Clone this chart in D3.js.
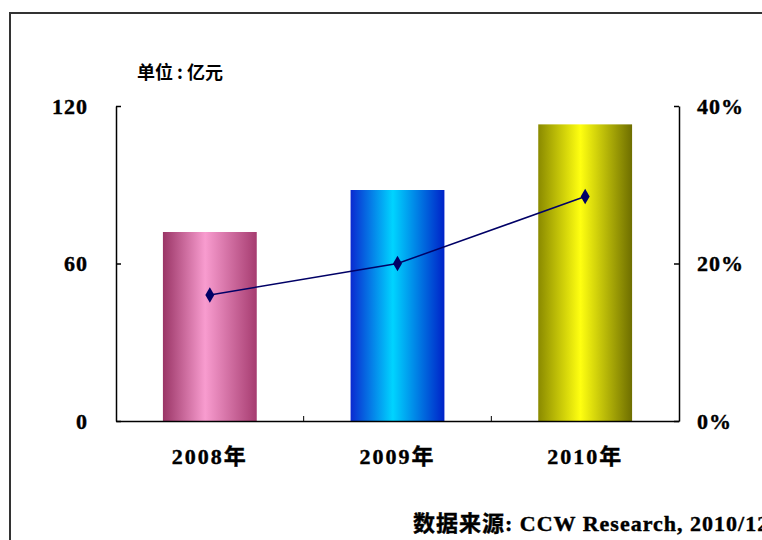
<!DOCTYPE html>
<html>
<head>
<meta charset="utf-8">
<script src="https://cdn.jsdelivr.net/npm/d3@7"></script>
<style>
  body { margin: 0; background: #fff; }
  svg text { font-family: "Liberation Serif", "Noto Sans CJK SC", serif; font-weight: bold; fill: #000; }
</style>
</head>
<body>
<div id="chart"></div>
<script>
var categories = ["2008年", "2009年", "2010年"];
var revenue = [72, 88, 113];          // 亿元
var growth = [0.16, 0.20, 0.285];     // 增长率
var leftTicks = [0, 60, 120];
var rightTicks = [0, 0.2, 0.4];
var barColors = [
    ["#9a3566", "#f89ccf", "#a63c70"],
    ["#0a2ad0", "#00d4ff", "#0022c8"],
    ["#8a8a00", "#ffff10", "#6e6e00"]
];

var W = 762, H = 540;
var plot = {left: 116, right: 679, top: 106, bottom: 421};

var svg = d3.select("#chart")
    .append("svg")
    .attr("width", W)
    .attr("height", H);

// frame
svg.append("rect")
    .attr("x", 10).attr("y", 13)
    .attr("width", 900).attr("height", 700)
    .style("fill", "none")
    .style("stroke", "#333")
    .style("stroke-width", 2);

var defs = svg.append("defs");
barColors.forEach(function(c, i) {
    var g = defs.append("linearGradient")
        .attr("id", "grad" + i)
        .attr("x1", "0%").attr("x2", "100%")
        .attr("y1", "0%").attr("y2", "0%");
    g.append("stop").attr("offset", "0%").attr("stop-color", c[0]);
    g.append("stop").attr("offset", "45%").attr("stop-color", c[1]);
    g.append("stop").attr("offset", "100%").attr("stop-color", c[2]);
});

var x = d3.scaleBand()
    .domain(categories)
    .range([plot.left, plot.right])
    .paddingInner(0.5)
    .paddingOuter(0.25);

var y = d3.scaleLinear().domain([0, 120]).range([plot.bottom, plot.top]);
var y2 = d3.scaleLinear().domain([0, 0.4]).range([plot.bottom, plot.top]);

// bars
svg.selectAll("rect.bar")
    .data(revenue)
    .enter()
    .append("rect")
    .attr("class", "bar")
    .attr("x", function(d, i) { return x(categories[i]); })
    .attr("y", function(d) { return y(d); })
    .attr("width", x.bandwidth())
    .attr("height", function(d) { return y(0) - y(d); })
    .style("fill", function(d, i) { return "url(#grad" + i + ")"; });

// left axis
var leftAxis = svg.append("g")
    .attr("transform", "translate(" + plot.left + ",0)")
    .call(d3.axisLeft(y).tickValues(leftTicks).tickSize(-5).tickSizeOuter(0).tickPadding(28));

// right axis
var rightAxis = svg.append("g")
    .attr("transform", "translate(" + plot.right + ",0)")
    .call(d3.axisRight(y2).tickValues(rightTicks).tickSize(-5).tickSizeOuter(0).tickPadding(18)
        .tickFormat(function(d) { return Math.round(d * 100) + "%"; }));

// bottom axis (labels at centers, ticks between categories)
var bottomAxis = svg.append("g")
    .attr("transform", "translate(0," + plot.bottom + ")")
    .call(d3.axisBottom(x).tickSize(0).tickSizeOuter(0).tickPadding(27));

var step = x.step();
svg.selectAll("line.sep")
    .data(categories.slice(1))
    .enter()
    .append("line")
    .attr("class", "sep")
    .attr("x1", function(d) { return x(d) - (step - x.bandwidth()) / 2; })
    .attr("x2", function(d) { return x(d) - (step - x.bandwidth()) / 2; })
    .attr("y1", plot.bottom)
    .attr("y2", plot.bottom - 5)
    .style("stroke", "#000");

[leftAxis, rightAxis, bottomAxis].forEach(function(a) {
    a.select(".domain").style("stroke", "#000").style("stroke-width", 1.5);
    a.selectAll(".tick line").style("stroke", "#000").style("stroke-width", 1.5);
    a.selectAll("text")
        .style("font-size", "22px")
        .style("letter-spacing", "1px")
        .style("font-family", "'Liberation Serif', 'Noto Sans CJK SC', serif")
        .style("font-weight", "bold")
        .style("stroke", "#000")
        .style("stroke-width", 0.4);
});
bottomAxis.selectAll("text").style("letter-spacing", "2px");

// growth line
var line = d3.line()
    .x(function(d, i) { return x(categories[i]) + x.bandwidth() / 2; })
    .y(function(d) { return y2(d); });

svg.append("path")
    .datum(growth)
    .attr("d", line)
    .style("fill", "none")
    .style("stroke", "#000066")
    .style("stroke-width", 1.5);

svg.selectAll("path.marker")
    .data(growth)
    .enter()
    .append("path")
    .attr("class", "marker")
    .attr("d", d3.symbol().type(d3.symbolDiamond).size(70))
    .attr("transform", function(d, i) {
        return "translate(" + (x(categories[i]) + x.bandwidth() / 2) + "," + y2(d) + ")";
    })
    .style("fill", "#000066");

// unit label
svg.append("text")
    .attr("x", 137).attr("y", 79)
    .style("font-size", "18px")
    .style("font-family", "'Noto Sans CJK SC', sans-serif")
    .text("单位 : 亿元");

// source
svg.append("text")
    .attr("x", 413).attr("y", 531)
    .style("font-size", "22px")
    .style("letter-spacing", "1px")
    .style("stroke", "#000")
    .style("stroke-width", 0.4)
    .text("数据来源: CCW Research, 2010/12");
</script>
</body>
</html>
